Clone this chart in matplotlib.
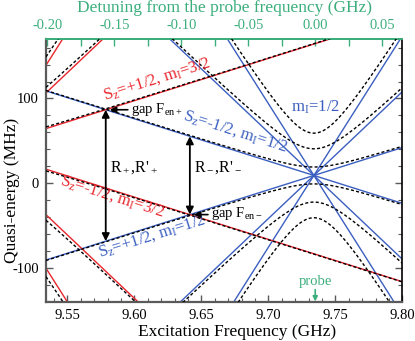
import numpy as np
import matplotlib
matplotlib.use('Agg')
import matplotlib.pyplot as plt
from matplotlib.ticker import MultipleLocator, FormatStrFormatter, FixedLocator

plt.rcParams['font.family'] = ['Liberation Serif', 'DejaVu Serif']
plt.rcParams['mathtext.fontset'] = 'custom'
plt.rcParams['mathtext.rm'] = 'Liberation Serif'
plt.rcParams['mathtext.it'] = 'Liberation Serif:italic'
plt.rcParams['axes.unicode_minus'] = False

# ---------------- data ----------------
x_range = [9.534, 9.800]          # GHz
y_range = [-141, 170]             # MHz
probe_freq = 9.735                # GHz
detuning_ticks = [-0.20, -0.15, -0.10, -0.05, 0.00, 0.05]
detuning_minor = [-0.175, -0.125, -0.075, -0.025, 0.025]
slopes = [0.5, 1.5, 2.5]          # MHz per MHz
gaps = [10.0, 31.5, 50.0]         # MHz, half-splitting of dressed (dashed) levels
blue_center_x = 9.734             # GHz, m_I = 1/2 resonance
blue_center_y = [9.0, 9.0, 9.0]   # MHz
red_center_x = 9.486              # GHz, m_I = 3/2 resonance
red_center_y = [40.4, 34.6, 19.3] # MHz

RED = '#e8262c'
BLUE = '#3b5fc0'
GREEN = '#3cae7c'
GRAY = '#5a5a5a'

fig = plt.figure(figsize=(4.15, 3.41), dpi=100)
ax = fig.add_axes([46/415, 1-302.3/341, (402.3-46)/415, (302.3-39.3)/341])
ax.set_xlim(*x_range)
ax.set_ylim(*y_range)

x = np.linspace(x_range[0], x_range[1], 1200)
dash = (0, (2.2, 1.6))

def lines(cx, cys, color):
    for s, g, cy in zip(slopes, gaps, cys):
        for sg in (1, -1):
            ax.plot(x, cy + sg*s*1000*(x - cx), color=color, lw=1.0, zorder=2)
        h = np.sqrt((s*1000*(x - cx))**2 + g**2)
        ax.plot(x, cy + h, color='k', lw=1.0, ls=dash, zorder=3)
        ax.plot(x, cy - h, color='k', lw=1.0, ls=dash, zorder=3)

lines(blue_center_x, blue_center_y, BLUE)
lines(red_center_x, red_center_y, RED)

# anticrossing points (red m_I=3/2 vs blue m_I=1/2, slope 1/2 lines)
s0 = slopes[0]*1000
rc, bc = red_center_y[0], blue_center_y[0]
# F_en+: red +1/2 with blue -1/2
xp = (bc + s0*blue_center_x - rc + s0*red_center_x) / (2*s0)
yp = rc + s0*(xp - red_center_x)
yp_low = bc + s0*(xp - blue_center_x)
# F_en-: red -1/2 with blue +1/2
xm = (rc + s0*red_center_x - bc + s0*blue_center_x) / (2*s0)
ym = bc + s0*(xm - blue_center_x)
ym_up = bc - s0*(xm - blue_center_x)

arr = dict(arrowstyle='<|-|>', color='k', lw=1.3, mutation_scale=11,
           shrinkA=0, shrinkB=0)
ax.annotate('', xy=(xp, yp), xytext=(xp, yp_low), arrowprops=arr, zorder=5)
ax.annotate('', xy=(xm, ym_up), xytext=(xm, ym), arrowprops=arr, zorder=5)

one = dict(arrowstyle='-|>', color='k', lw=1.2, mutation_scale=9,
           shrinkA=0, shrinkB=0)
ax.annotate('', xy=(xp + 0.003, yp), xytext=(xp + 0.0165, yp), arrowprops=one, zorder=5)
ax.text(xp + 0.0185, yp, r'gap F$_{\mathrm{en+}}$', fontsize=10.5, va='center', ha='left', zorder=6)
ax.annotate('', xy=(xm + 0.003, ym), xytext=(xm + 0.0135, ym), arrowprops=one, zorder=5)
ax.text(xm + 0.0155, ym + 1.5, r'gap F$_{\mathrm{en-}}$', fontsize=10.5, va='center', ha='left', zorder=6)

ax.text(xp + 0.003, 18, r"R$_+$,R'$_+$", fontsize=11.5, va='center', ha='left')
ax.text(xm + 0.003, 18, r"R$_-$,R'$_-$", fontsize=11.5, va='center', ha='left')

def ang(s):
    p0 = ax.transData.transform((9.6, 0))
    p1 = ax.transData.transform((9.7, s*100))
    return np.degrees(np.arctan2(p1[1]-p0[1], p1[0]-p0[0]))

ax.text(9.617, 123, r'S$_\mathrm{z}$=+1/2, m$_\mathrm{I}$=3/2', color=RED, fontsize=12,
        rotation=ang(0.5), ha='center', va='center', rotation_mode='anchor')
ax.text(9.675, 61.7, r'S$_\mathrm{z}$=-1/2, m$_\mathrm{I}$=1/2', color=BLUE, fontsize=12,
        rotation=ang(-0.5), ha='center', va='center', rotation_mode='anchor')
ax.text(9.5833, -16.2, r'S$_\mathrm{z}$=-1/2, m$_\mathrm{I}$=3/2', color=RED, fontsize=12,
        rotation=ang(-0.5), ha='center', va='center', rotation_mode='anchor')
ax.text(9.6131, -62.2, r'S$_\mathrm{z}$=+1/2, m$_\mathrm{I}$=1/2', color=BLUE, fontsize=12,
        rotation=ang(0.5), ha='center', va='center', rotation_mode='anchor')
ax.text(9.7355, 90, r'm$_\mathrm{I}$=1/2', color=BLUE, fontsize=12, ha='center', va='center')

ax.text(probe_freq, -116, 'probe', color=GREEN, fontsize=10.5, ha='center', va='center')
ax.annotate('', xy=(probe_freq, y_range[0]+1), xytext=(probe_freq, -126),
            arrowprops=dict(arrowstyle='-|>', color=GREEN, lw=1.2, mutation_scale=7,
                            shrinkA=0, shrinkB=0))

# ---------------- axes styling ----------------
ax.xaxis.set_major_locator(MultipleLocator(0.05))
ax.xaxis.set_minor_locator(MultipleLocator(0.01))
ax.xaxis.set_major_formatter(FormatStrFormatter('%.2f'))
ax.yaxis.set_major_locator(MultipleLocator(100))
ax.yaxis.set_minor_locator(MultipleLocator(20))
ax.tick_params(which='both', direction='in', top=False, right=True, labelsize=10.5)
ax.tick_params(which='major', length=5, width=1.0, color=GRAY)
ax.tick_params(which='minor', length=3, width=0.8, color=GRAY)
ax.tick_params(axis='x', pad=4.5)
ax.tick_params(axis='y', pad=5)
for sp in ('left', 'bottom'):
    ax.spines[sp].set_color(GRAY)
    ax.spines[sp].set_linewidth(1.6)
ax.spines['right'].set_color('k')
ax.spines['right'].set_linewidth(1.2)
ax.spines['top'].set_color(GREEN)
ax.spines['top'].set_linewidth(1.4)

sec = ax.secondary_xaxis('top', functions=(lambda f: f - probe_freq, lambda d: d + probe_freq))
sec.xaxis.set_major_locator(FixedLocator(detuning_ticks))
sec.xaxis.set_minor_locator(FixedLocator(detuning_minor))
sec.xaxis.set_major_formatter(FormatStrFormatter('%.2f'))
sec.tick_params(which='both', direction='in', colors=GREEN, labelsize=10.5, pad=5)
sec.tick_params(which='major', length=5, width=1.0)
sec.tick_params(which='minor', length=5, width=1.0)
sec.spines['top'].set_color(GREEN)
sec.spines['top'].set_linewidth(1.4)

fig.text(237.5/415, 1-331.7/341, 'Excitation Frequency (GHz)', fontsize=12.5,
         ha='center', va='center')
fig.text(224.5/415, 1-8.5/341, 'Detuning from the probe frequency (GHz)', fontsize=12.5,
         ha='center', va='center', color=GREEN)
fig.text(12.5/415, 1-190/341, 'Quasi-energy (MHz)', fontsize=12.5, rotation=90,
         ha='center', va='center')

fig.savefig('out.png', dpi=100)
